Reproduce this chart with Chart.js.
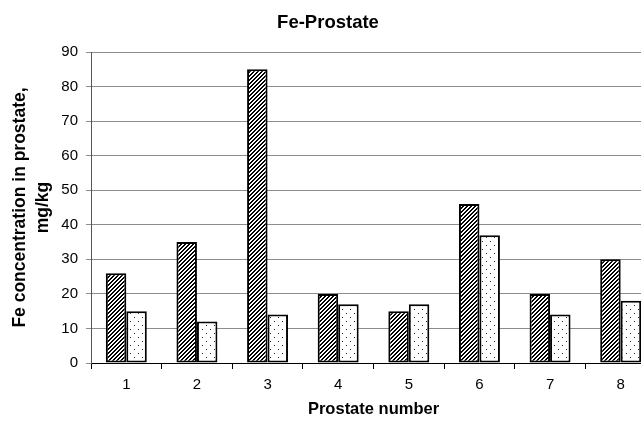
<!DOCTYPE html>
<html><head><meta charset="utf-8">
<script src="https://cdn.jsdelivr.net/npm/chart.js@4.4.1/dist/chart.umd.min.js"></script>
<style>html,body{margin:0;padding:0;background:#fff;overflow:hidden}#wrap{position:absolute;left:0;top:0;width:656px;height:424px}</style>
</head><body><div id="wrap"><canvas id="c"></canvas></div>
<script>
const categories = ['1','2','3','4','5','6','7','8'];
const seriesA = [26, 35, 85, 20, 15, 46, 20, 30];
const seriesB = [15, 12, 14, 17, 17, 37, 14, 18];
const yTicks = [0,10,20,30,40,50,60,70,80,90];

function hatch(){
  const n=4;const c=document.createElement('canvas');c.width=n;c.height=n;const g=c.getContext('2d');
  g.fillStyle='#fff';g.fillRect(0,0,n,n);g.fillStyle='#000';
  for(let x=0;x<n;x++)for(let y=0;y<n;y++){if(((x+y)%n)<2)g.fillRect(x,y,1,1);}
  return g.createPattern(c,'repeat');
}
function dots(){
  const c=document.createElement('canvas');c.width=8;c.height=8;const g=c.getContext('2d');
  g.fillStyle='#fff';g.fillRect(0,0,8,8);g.fillStyle='#222';
  g.fillRect(2,1,1,1);g.fillRect(6,5,1,1);
  return g.createPattern(c,'repeat');
}
const font='"Liberation Sans", Arial, sans-serif';
new Chart(document.getElementById('c'),{
  type:'bar',
  data:{labels:categories,datasets:[
    {data:seriesA,backgroundColor:hatch(),borderColor:'#000',borderWidth:2,borderSkipped:false},
    {data:seriesB,backgroundColor:dots(),borderColor:'#000',borderWidth:2,borderSkipped:false}
  ]},
  options:{
    responsive:true,maintainAspectRatio:false,animation:false,
    layout:{padding:{left:0,right:0,top:0,bottom:0}},
    datasets:{bar:{categoryPercentage:0.58,barPercentage:1}},
    plugins:{legend:{display:false},tooltip:{enabled:false},
      title:{display:true,text:'Fe-Prostate',color:'#000',font:{family:font,size:18.5,weight:'bold',lineHeight:1.2},padding:{top:11.5,bottom:18.3}}},
    scales:{
      x:{grid:{offset:true,drawOnChartArea:false,color:'#000',tickLength:6},border:{color:'#000',width:1},
        ticks:{color:'#000',font:{family:font,size:15},padding:7},
        title:{display:true,text:'Prostate number',color:'#000',font:{family:font,size:16.5,weight:'bold',lineHeight:1.2},padding:{top:4,bottom:5}},
        afterFit:s=>{s.height=61;}},
      y:{min:0,max:90,afterBuildTicks:s=>{s.ticks=yTicks.map(v=>({value:v}));},
        grid:{color:'#8c8c8c',tickLength:5},border:{color:'#555',width:1},
        ticks:{color:'#000',font:{family:font,size:15},padding:8},
        title:{display:true,text:['Fe concentration in prostate,','mg/kg'],color:'#000',font:{family:font,size:17.5,weight:'bold',lineHeight:1.3},padding:{top:9,bottom:0}},
        afterFit:s=>{s.width=91;}}
    }
  }
});
</script></body></html>
